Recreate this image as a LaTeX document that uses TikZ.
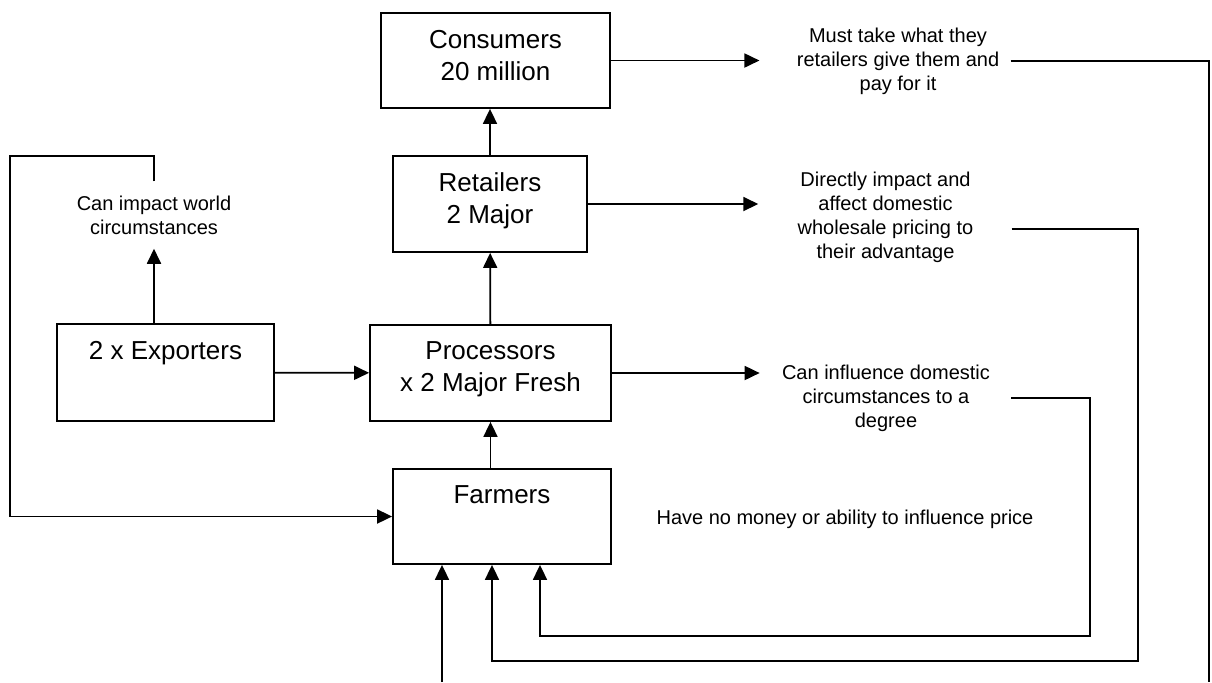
\documentclass[tikz,border=0pt]{standalone}
\usepackage{fontspec}
\setmainfont{Liberation Sans}
\usetikzlibrary{arrows.meta,positioning}

\begin{document}
\begin{tikzpicture}[x=0.5pt,y=-0.5pt,
    box/.style={draw,line width=0.9pt,inner sep=0pt},
    boxtext/.style={inner sep=0pt,align=center,font=\fontsize{13}{16}\selectfont},
    note/.style={inner sep=0pt,align=center,font=\fontsize{10}{12}\selectfont},
    arr/.style={line width=0.9pt,-{Triangle[length=7.5pt,width=7pt]}},
    wire/.style={line width=0.9pt}]
  \useasboundingbox (0,0) rectangle (1212,682);
  % boxes
  \node[box,minimum width=114.5pt,minimum height=47.5pt] (cons) at (495.5,60.5) {};
  \node[box,minimum width=97pt,minimum height=48pt] (ret) at (490,204) {};
  \node[box,minimum width=120.5pt,minimum height=48pt] (proc) at (490.5,373) {};
  \node[box,minimum width=108.5pt,minimum height=48.5pt] (expo) at (165.5,372.5) {};
  \node[box,minimum width=109pt,minimum height=47.5pt] (farm) at (502,516.5) {};
  \node[boxtext,below=8.8pt of cons.north] (consT) {Consumers\\20 million};
  \node[boxtext,below=8.8pt of ret.north] (retT) {Retailers\\2 Major};
  \node[boxtext,below=8.8pt of proc.north] (procT) {Processors\\x 2 Major Fresh};
  \node[boxtext,below=8.8pt of expo.north] (expoT) {2 x Exporters};
  \node[boxtext,below=8.8pt of farm.north] (farmT) {Farmers};
  % notes
  \node[note] (must) at (898,61) {Must take what they\\retailers give them and\\pay for it};
  \node[note] (dir) at (885.5,217) {Directly impact and\\affect domestic\\wholesale pricing to\\their advantage};
  \node[note] (infl) at (886,398) {Can influence domestic\\circumstances to a\\degree};
  \node[note,inner ysep=7pt] (world) at (154,215) {Can impact world\\circumstances};
  \node[note] (price) at (845,519) {Have no money or ability to influence price};
  % corners
  \coordinate (c0) at (442,682);
  \coordinate (c1) at (1209,682);
  \coordinate (c2) at (1138,661);
  \coordinate (c3) at (1090,636);
  \coordinate (c4) at (10,156);
  % chain
  \draw[arr] (ret.north) -- (ret.north |- cons.south);
  \draw[arr] (proc) -- (ret);
  \draw[arr] (farm.north -| proc) -- (proc.south);
  \draw[arr] (expo) -- (proc);
  \draw[arr] (expo.north -| world) -- (world.south);
  \draw[arr,shorten >=18.5pt] (cons.east) -- (cons.east -| must.west);
  \draw[arr,shorten >=19.5pt] (ret.east) -- (ret.east -| dir.west);
  \draw[arr,shorten >=11pt] (proc.east) -- (proc.east -| infl.west);
  % back to farmers
  \draw[wire,shorten <=5.5pt] (must.east) -| (c1);
  \draw[arr] (c0) -- (c0 |- farm.south);
  \draw[arr,shorten <=19pt] ([yshift=-6pt]dir.east) -| (c2) -| ([xshift=-5pt]farm.south);
  \draw[arr,shorten <=10.5pt] (infl.east) -| (c3) -| ([xshift=19pt]farm.south);
  \draw[arr] (world.north) |- (c4) |- (farm.west);
\end{tikzpicture}
\end{document}
